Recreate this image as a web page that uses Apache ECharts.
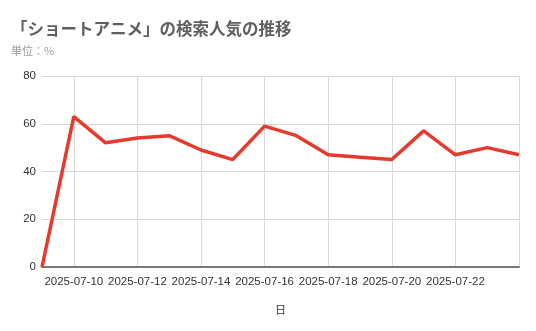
<!DOCTYPE html>
<html><head><meta charset="utf-8">
<script src="https://cdn.jsdelivr.net/npm/echarts@6/dist/echarts.min.js"></script>
<style>html,body{margin:0;padding:0;background:#fff}#c{width:536px;height:331px}</style>
</head><body><div id="c"></div>
<script>
const categories = ['2025-07-09','2025-07-10','2025-07-11','2025-07-12','2025-07-13','2025-07-14','2025-07-15','2025-07-16','2025-07-17','2025-07-18','2025-07-19','2025-07-20','2025-07-21','2025-07-22','2025-07-23','2025-07-24'];
const values = [0,63,52,54,55,49,45,59,55,47,46,45,57,47,50,47];
const yTicks = [0,20,40,60,80];
const titleText = '「ショートアニメ」の検索人気の推移';
const subtitleText = '単位：%';
const xName = '日';

const chart = echarts.init(document.getElementById('c'), null, {renderer:'canvas'});
const font = '"Noto Sans CJK JP", Roboto, sans-serif';
const last = categories.length - 1;
chart.setOption({
  animation:false,
  title:{text:titleText, subtext:subtitleText, left:6, top:15, itemGap:9,
    textStyle:{fontFamily:font, fontSize:16.5, fontWeight:'bold', color:'#5f5f5f'},
    subtextStyle:{fontFamily:font, fontSize:11, color:'#9a9a9a'}},
  grid:{left:42, right:17, top:76, bottom:64, outerBoundsMode:'none', containLabel:false},
  xAxis:{type:'category', data:categories, boundaryGap:false,
    name:xName, nameLocation:'middle', nameGap:37,
    nameTextStyle:{fontFamily:font, fontSize:11, color:'#333'},
    axisLine:{lineStyle:{color:'#777', width:2}},
    axisTick:{show:false},
    axisLabel:{interval:(i)=>i%2===1 && i<last, fontFamily:'"Liberation Sans", Arial, sans-serif', fontSize:11.5, color:'#333', margin:9},
    splitLine:{show:true, interval:(i)=>i%2===1, lineStyle:{color:'#d9d9d9', width:1}}},
  yAxis:{type:'value', min:yTicks[0], max:yTicks[yTicks.length-1], interval:20,
    axisLine:{show:false}, axisTick:{show:false},
    axisLabel:{fontFamily:'"Liberation Sans", Arial, sans-serif', fontSize:11.5, color:'#333', margin:6},
    splitLine:{lineStyle:{color:'#d9d9d9', width:1}}},
  series:[{type:'line', data:values, showSymbol:false, symbol:'none',
    lineStyle:{color:'#e53a2d', width:3.5}, z:5}]
});
</script></body></html>
